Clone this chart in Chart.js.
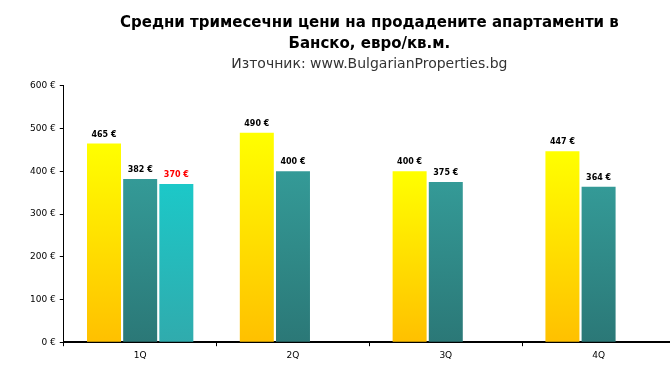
<!DOCTYPE html>
<html>
<head>
<meta charset="utf-8">
<script src="https://cdn.jsdelivr.net/npm/chart.js@4/dist/chart.umd.min.js"></script>
<style>
  html, body { margin: 0; padding: 0; background: #fff; overflow: hidden; }
  #wrap { width: 680px; height: 377px; position: relative; }
</style>
</head>
<body>
<div id="wrap"><canvas id="c" width="680" height="377"></canvas></div>
<script>
const categories = ['1Q', '2Q', '3Q', '4Q'];
const seriesA = [465, 490, 400, 447];
const seriesB = [382, 400, 375, 364];
const seriesC = [370, null, null, null];
const yTickValues = [0, 100, 200, 300, 400, 500, 600];
const titleLines = ['Средни тримесечни цени на продадените апартаменти в', 'Банско, евро/кв.м.'];
const subtitleText = 'Източник: www.BulgarianProperties.bg';

const FONT = "'DejaVu Sans', sans-serif";

function grad(top, bottom) {
  return (ctx) => {
    const chart = ctx.chart;
    if (!chart.chartArea || !chart.scales.y) return bottom;
    const v = ctx.raw;
    if (v == null) return bottom;
    const y = chart.scales.y.getPixelForValue(v);
    const y0 = chart.scales.y.getPixelForValue(0);
    const g = chart.ctx.createLinearGradient(0, y, 0, y0);
    g.addColorStop(0, top);
    g.addColorStop(1, bottom);
    return g;
  };
}

const labelColors = ['#000000', '#000000', '#FF0000'];

const valueLabels = {
  id: 'valueLabels',
  afterDatasetsDraw(chart) {
    const ctx = chart.ctx;
    ctx.save();
    ctx.font = "bold 8px " + FONT;
    ctx.textAlign = 'center';
    ctx.textBaseline = 'middle';
    chart.data.datasets.forEach((ds, di) => {
      const meta = chart.getDatasetMeta(di);
      meta.data.forEach((el, i) => {
        const v = ds.data[i];
        if (v == null) return;
        ctx.fillStyle = labelColors[di];
        ctx.fillText(v + ' €', el.x, el.y - 9);
      });
    });
    ctx.restore();
  }
};

new Chart(document.getElementById('c'), {
  type: 'bar',
  data: {
    labels: categories,
    datasets: [
      { label: 'A', data: seriesA, backgroundColor: grad('#FFFF00', '#FFC000') },
      { label: 'B', data: seriesB, backgroundColor: grad('#349A97', '#2B7877') },
      { label: 'C', data: seriesC, backgroundColor: grad('#1CC8C8', '#30ABAD') }
    ]
  },
  options: {
    responsive: false,
    animation: false,
    categoryPercentage: 0.71,
    barPercentage: 0.94,
    layout: { padding: { left: 26, right: 5, bottom: 12, top: 0 } },
    plugins: {
      legend: { display: false },
      tooltip: { enabled: false },
      title: {
        display: true,
        text: titleLines,
        fullSize: false,
        color: '#000',
        font: { family: FONT, size: 15, weight: 'bold', lineHeight: 1.4 },
        padding: { top: 13, bottom: 0 }
      },
      subtitle: {
        display: true,
        text: subtitleText,
        fullSize: false,
        color: '#333',
        font: { family: FONT, size: 14, weight: 'normal', lineHeight: 1.2 },
        padding: { top: 1, bottom: 13 }
      }
    },
    scales: {
      x: {
        grid: { display: true, drawOnChartArea: false, drawTicks: true, tickLength: 4, color: '#000', offset: true },
        border: { display: true, color: '#000', width: 2 },
        ticks: { color: '#000', font: { family: FONT, size: 9 }, padding: 4 }
      },
      y: {
        min: 0,
        max: 600,
        afterBuildTicks: (axis) => { axis.ticks = yTickValues.map(v => ({ value: v })); },
        grid: { display: true, drawOnChartArea: false, drawTicks: true, tickLength: 4, color: '#000' },
        border: { display: true, color: '#000', width: 1 },
        ticks: { color: '#000', font: { family: FONT, size: 9 }, padding: 4, callback: (v) => v + ' €' }
      }
    }
  },
  plugins: [valueLabels]
});
</script>
</body>
</html>
